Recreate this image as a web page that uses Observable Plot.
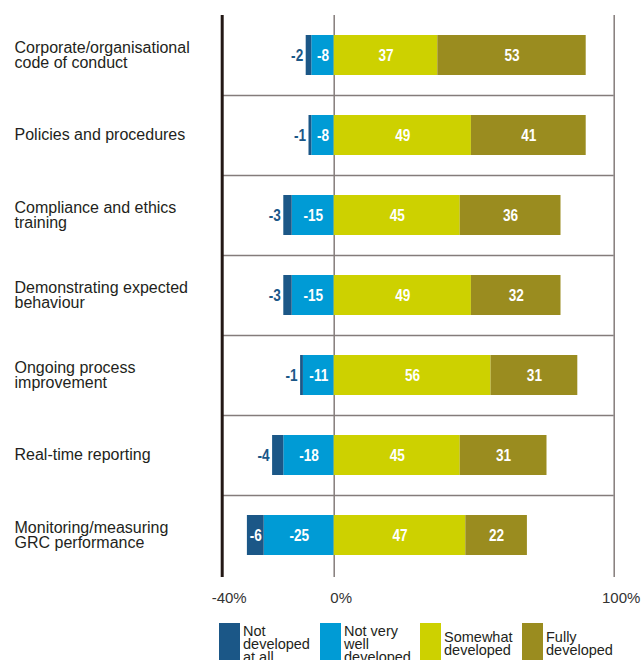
<!DOCTYPE html>
<html>
<head>
<meta charset="utf-8">
<script src="https://cdn.jsdelivr.net/npm/d3@7"></script>
<script src="https://cdn.jsdelivr.net/npm/@observablehq/plot@0.6"></script>
<style>
  html, body { margin: 0; padding: 0; background: #fff; width: 642px; height: 660px; overflow: hidden; }
  #wrap { position: relative; width: 642px; height: 660px; }
  #chart svg { display: block; }
  .legend { position: absolute; top: 623px; left: 0; width: 642px; height: 60px; font-family: "Liberation Sans", Arial, sans-serif; font-size: 14.5px; line-height: 13px; color: #231f20; }
  .item { position: absolute; top: 0; display: flex; align-items: center; height: 42px; }
  .sw { width: 21px; height: 42px; margin-right: 3px; flex: none; }
</style>
</head>
<body>
<div id="wrap">
  <div id="chart"></div>
  <div class="legend" id="legend"></div>
</div>
<script>
const categories = [
  "Corporate/organisational\ncode of conduct",
  "Policies and procedures",
  "Compliance and ethics\ntraining",
  "Demonstrating expected\nbehaviour",
  "Ongoing process\nimprovement",
  "Real-time reporting",
  "Monitoring/measuring\nGRC performance"
];
const notAtAll    = [-2, -1, -3, -3, -1, -4, -6];
const notVeryWell = [-8, -8, -15, -15, -11, -18, -25];
const somewhat    = [37, 49, 45, 49, 56, 45, 47];
const fully       = [53, 41, 36, 32, 31, 31, 22];
const seriesNames = ["Not developed at all", "Not very well developed", "Somewhat developed", "Fully developed"];
const legendLabels = ["Not<br>developed<br>at all", "Not very<br>well<br>developed", "Somewhat<br>developed", "Fully<br>developed"];
const seriesColors = ["#1b5787", "#009bd5", "#cdd100", "#9a8c1f"];
const xTicks = [-40, 0, 100];

// stacking order: nearest zero first on each side
const data = [];
categories.forEach((c, i) => {
  data.push({cat: c, series: seriesNames[1], value: notVeryWell[i]});
  data.push({cat: c, series: seriesNames[0], value: notAtAll[i]});
  data.push({cat: c, series: seriesNames[2], value: somewhat[i]});
  data.push({cat: c, series: seriesNames[3], value: fully[i]});
});

const numFont = '"Liberation Sans", Arial, sans-serif';

const chart = Plot.plot({
  width: 642,
  height: 615,
  marginLeft: 221.7,
  marginRight: 28.3,
  marginTop: 15,
  marginBottom: 40,
  x: {domain: [-40, 100]},
  y: {domain: categories, padding: 0, axis: null},
  color: {domain: seriesNames, range: seriesColors},
  style: {fontFamily: '"Liberation Sans", Arial, sans-serif', background: "white", color: "#333"},
  marks: [
    Plot.ruleY(categories.slice(1), {y: d => d, x1: -40, x2: 100, dy: -40, stroke: "#847c7b", strokeWidth: 1.5}),
    Plot.ruleX([0, 100], {stroke: "#847c7b", strokeWidth: 1.5, insetBottom: -2}),
    Plot.ruleX([-40], {stroke: "#231815", strokeWidth: 3, insetBottom: -2}),
    Plot.barX(data, Plot.stackX({x: "value", y: "cat", fill: "series", insetTop: 20, insetBottom: 20})),
    Plot.text(data, Plot.stackX({
      x: "value", y: "cat",
      text: d => Math.abs(d.value) >= 5 ? String(d.value) : "",
      fill: "white", fontSize: 17, fontWeight: "bold", fontFamily: numFont,
      className: "num"
    })),
    Plot.text(data, Plot.stackX2({
      x: "value", y: "cat",
      text: d => (d.value < 0 && Math.abs(d.value) < 5) ? String(d.value) : "",
      fill: "#1b5787", fontSize: 17, fontWeight: "bold", fontFamily: numFont,
      textAnchor: "end", dx: -3, className: "num"
    })),
    Plot.text(categories, {
      x: -40, y: d => d, text: d => d,
      textAnchor: "start", dx: -207.7, fontSize: 16, lineHeight: 0.95, fill: "#231f20"
    }),
    Plot.axisX({ticks: xTicks, tickSize: 0, tickPadding: 17, dx: 7, fontSize: 15, tickFormat: d => `${d}%`, label: null})
  ]
});
// condensed look for the value labels
chart.querySelectorAll("g.num text").forEach(t => {
  const tr = t.getAttribute("transform") || "";
  t.setAttribute("transform", tr + " scale(0.8,1)");
});
document.getElementById("chart").appendChild(chart);

const legend = document.getElementById("legend");
const lx = [219, 320, 420, 522];
seriesNames.forEach((s, i) => {
  const it = document.createElement("div");
  it.className = "item";
  it.style.left = lx[i] + "px";
  it.innerHTML = `<div class="sw" style="background:${seriesColors[i]}"></div><div>${legendLabels[i]}</div>`;
  legend.appendChild(it);
});
</script>
</body>
</html>
